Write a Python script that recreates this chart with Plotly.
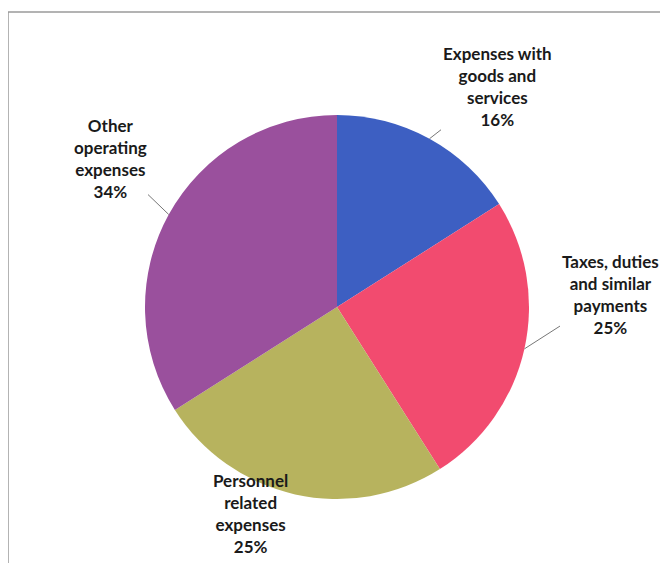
import math
import plotly.graph_objects as go

categories = ["Expenses with goods and services", "Taxes, duties and similar payments",
              "Personnel related expenses", "Other operating expenses"]
label_lines = ["Expenses with<br>goods and<br>services", "Taxes, duties<br>and similar<br>payments",
               "Personnel<br>related<br>expenses", "Other<br>operating<br>expenses"]
values = [16, 25, 25, 34]
colors = ["#3d5fc2", "#f24b6f", "#b7b35e", "#9a509d"]

OFF = 8  # browser body margin
W, H = 668 - 2 * OFF, 571 - 2 * OFF
cx, cy, R = 337 - OFF, 307 - OFF, 192  # pie centre/radius in pixels (from top-left of figure)

fig = go.Figure(go.Pie(
    labels=categories, values=values, sort=False, direction="clockwise", rotation=0,
    marker=dict(colors=colors, line=dict(width=0)),
    textinfo="none", hoverinfo="label+percent", showlegend=False,
    domain=dict(x=[(cx - R) / W, (cx + R) / W], y=[(H - cy - R) / H, (H - cy + R) / H]),
))

# text centre positions (pixels in reference image)
text_pos = [(497, 86), (610, 294), (250, 513), (110, 158)]
leader = [True, True, False, True]
FONT = dict(family="Lato", size=17, color="#1a1a1a")

total = sum(values)
cum = 0
annotations = []
for i, v in enumerate(values):
    mid = (cum + v / 2) / total * 2 * math.pi
    cum += v
    ex = cx + R * math.sin(mid)
    ey = cy - R * math.cos(mid)
    pct = round(v / total * 100)
    txt = f"{label_lines[i]}<br>{pct}%"
    tx, ty = text_pos[i][0] - OFF, text_pos[i][1] - OFF
    if leader[i]:
        annotations.append(dict(
            x=ex / W, y=1 - ey / H, xref="paper", yref="paper",
            ax=tx - ex, ay=ty - ey, axref="pixel", ayref="pixel",
            text=txt, showarrow=True, arrowhead=0, arrowwidth=1, arrowcolor="#777777",
            font=FONT, align="center", xanchor="center", yanchor="middle",
        ))
    else:
        annotations.append(dict(
            x=tx / W, y=1 - ty / H, xref="paper", yref="paper", showarrow=False,
            text=txt, font=FONT, align="center", xanchor="center", yanchor="middle",
        ))

fig.update_layout(
    width=W, height=H, margin=dict(l=0, r=0, t=0, b=0),
    paper_bgcolor="white", plot_bgcolor="white",
    annotations=annotations,
    shapes=[dict(type="rect", xref="paper", yref="paper", x0=0, x1=1.05, y0=-0.05, y1=1 - 4 / H,
                 line=dict(color="#9a9a9a", width=1.5))],
)
fig.update_annotations(font_weight="bold")
fig.write_html("out.html")
